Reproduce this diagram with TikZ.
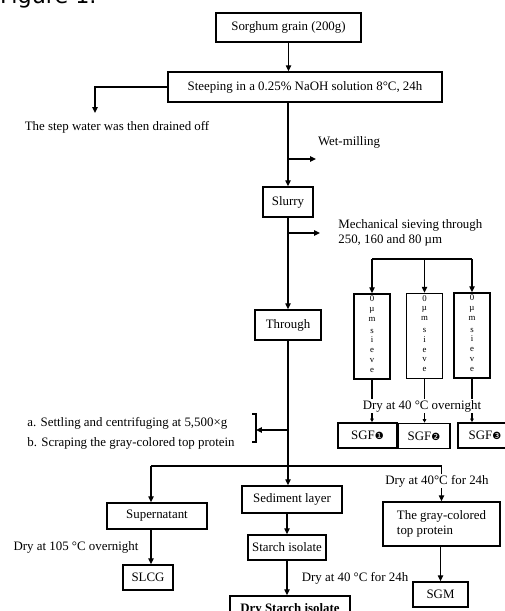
\documentclass[tikz,border=0pt]{standalone}
\usepackage{fontspec}
\setmainfont{Liberation Serif}
\newfontfamily\dejavu{DejaVu Sans}
\usetikzlibrary{arrows.meta}
\newcommand{\numdot}[1]{{\dejavu\fontsize{8.5}{8.5}\selectfont #1}}
\begin{document}
\begin{tikzpicture}[x=0.03cm,y=-0.03cm,
  box/.style={draw,line width=1.4pt,inner sep=2pt,font=\fontsize{11}{12.5}\selectfont},
  txt/.style={inner sep=1pt,font=\fontsize{11}{12.5}\selectfont},
  sievebox/.style={box,minimum width=1.08cm,minimum height=2.55cm},
  arr/.style={-{Triangle[length=5pt,width=4.5pt]},line width=1.1pt},
  tick/.style={-{Triangle[length=3pt,width=3pt]},line width=1.1pt}]
\useasboundingbox (0,0) rectangle (505,611);
\node[anchor=base west,inner sep=0pt,font=\dejavu\fontsize{19}{20}\selectfont] (fig) at (0,3) {Figure 1.};
% main chain
\node[box,minimum width=4.35cm,minimum height=0.87cm] (sorghum) at (288.5,27.5) {Sorghum grain (200g)};
\node[box,minimum width=8.22cm,minimum height=0.9cm] (steep) at (305,87) {Steeping in a 0.25\% NaOH solution 8°C, 24h};
\node[txt] (drain) at (117,127) {The step water was then drained off};
\node[txt] (wetmill) at (349,142) {Wet-milling};
\node[box,minimum width=1.5cm,minimum height=0.9cm] (slurry) at (288,202) {Slurry};
\node[txt,anchor=west,align=left] (sieving) at (337,233) {Mechanical sieving through\\ 250, 160 and 80 µm};
\node[box,minimum width=1.98cm,minimum height=0.9cm] (through) at (288,325) {Through};
% sieves
\node[sievebox] (sieve1) at (372,336.5) {};
\node[sievebox] (sieve2) at (424.5,336) {};
\node[sievebox] (sieve3) at (472,335.5) {};
\foreach \i in {1,2,3}
  \node[anchor=north,inner sep=1pt,font=\fontsize{7.5}{8.3}\selectfont,align=center] (sievetxt\i)
    at ([yshift=-1pt]sieve\i.north) {0\\µ\\m\\[2pt]s\\i\\e\\v\\e};
\node[box,minimum width=1.77cm,minimum height=0.75cm] (sgf1) at (367.5,435.5) {SGF\numdot{❶}};
\node[box,minimum width=1.56cm,minimum height=0.75cm] (sgf2) at (424,436) {SGF\numdot{❷}};
\node[box,minimum width=1.62cm,minimum height=0.75cm] (sgf3) at (485,435.5) {SGF\numdot{❸}};
% separation
\node[txt,anchor=west] (settle) at (26,423) {a. Settling and centrifuging at 5,500×g};
\node[txt,anchor=west] (scrape) at (26,443) {b. Scraping the gray-colored top protein};
\node[box,minimum width=3cm,minimum height=0.81cm] (sediment) at (292,499.5) {Sediment layer};
\node[box,minimum width=3cm,minimum height=0.78cm] (super) at (157,516) {Supernatant};
\node[box,minimum width=1.5cm,minimum height=0.75cm] (slcg) at (148,577.5) {SLCG};
\node[box,minimum width=2.34cm,minimum height=0.75cm] (starch) at (287,547.5) {Starch isolate};
\node[box,minimum width=3.6cm,minimum height=0.78cm,font=\fontsize{11}{12.5}\selectfont\bfseries] (drystarch) at (290,609) {Dry Starch isolate};
\node[box,minimum width=3.51cm,minimum height=1.32cm,align=left] (gray) at (441.5,524) {The gray-colored\\ top protein};
\node[box,minimum width=1.65cm,minimum height=0.75cm] (sgm) at (440.5,594.5) {SGM};
\node[txt] (dry105) at (76,547) {Dry at 105 °C overnight};
\node[txt] (drystarchtxt) at (355,578) {Dry at 40 °C for 24h};
% coordinates
\coordinate (drainend) at (95,113);
\coordinate (wm) at (288,159);
\coordinate (wmend) at (316,159);
\coordinate (sv0) at (288,233);
\coordinate (svend) at (320,233);
\coordinate (sv) at (424,259);
\coordinate (brk) at (256,430);
\coordinate (lft) at (151,466);
\coordinate (rgt) at (441.5,466);
% connectors
\draw[arr] (sorghum.south) -- (sorghum.south |- steep.north);
\draw[arr] (steep.west) -| (drainend);
\draw[arr] (steep.south -| slurry.north) -- (slurry.north);
\draw[arr] (wm) -- (wmend);
\draw[arr] (slurry.south) -- (through.north);
\draw[arr] (sv0) -- (svend);
\draw[line width=1.1pt] (sieve1.north |- sv) -- (sieve3.north |- sv);
\foreach \i in {1,2,3} {
  \draw[arr] (sieve\i.north |- sv) -- (sieve\i.north);
  \draw[tick] (sieve\i.south) -- (sieve\i.south |- sgf\i.north);
}
\draw[arr] (through.south |- brk) -- (brk);
\draw[line width=1.1pt] (252,414) -- (256,414) -- (256,442) -- (252,442);
\draw[arr] (through.south) -- (through.south |- sediment.north);
\draw[line width=1.1pt] (lft) -- (rgt);
\draw[arr] (lft) -- (lft |- super.north);
\draw[arr] (rgt) -- (gray.north);
\draw[arr] (super.south -| lft) -- (lft |- slcg.north);
\draw[arr] (starch.north |- sediment.south) -- (starch.north);
\draw[arr] (starch.south) -- (starch.south |- drystarch.north);
\draw[arr] (gray.south -| sgm.north) -- (sgm.north);
% labels over the lines
\node[txt,fill=white] (dryover) at (422,406) {Dry at 40 °C overnight};
\node[txt,fill=white] (drygray) at (437,481) {Dry at 40°C for 24h};
\end{tikzpicture}
\end{document}
